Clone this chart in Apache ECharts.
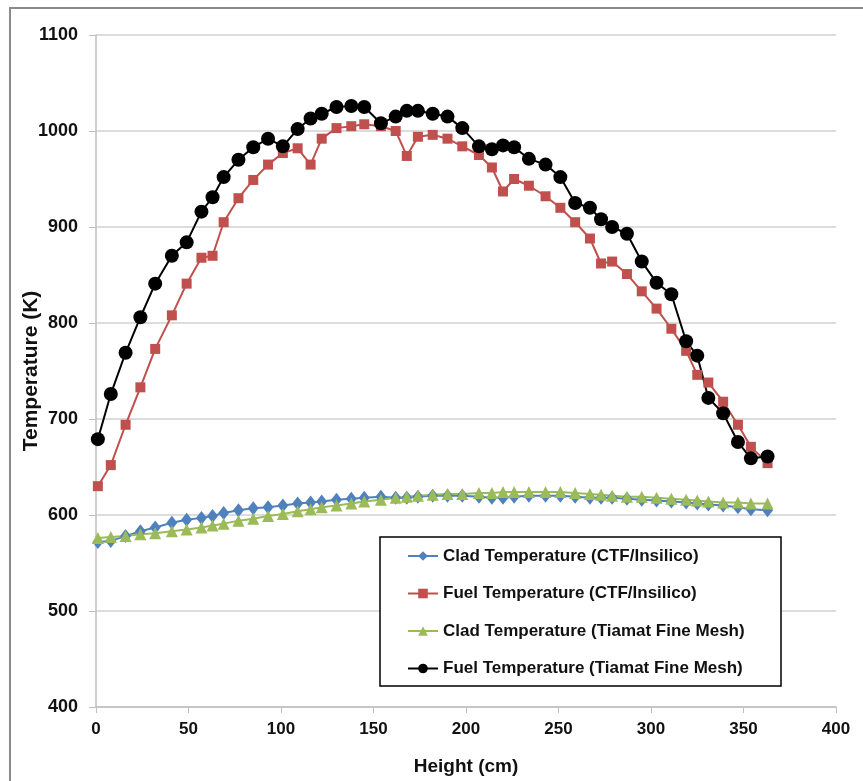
<!DOCTYPE html>
<html>
<head>
<meta charset="utf-8">
<script src="https://cdn.jsdelivr.net/npm/echarts@6/dist/echarts.min.js"></script>
<style>
html, body { margin: 0; padding: 0; background: #fff; }
#main { width: 863px; height: 781px; }
</style>
</head>
<body>
<div id="main"></div>
<script>
// heights (cm), shared by all four series
var heights = [1, 8, 16, 24, 32, 41, 49, 57, 63, 69, 77, 85, 93, 101, 109, 116, 122, 130, 138, 145,
	154, 162, 168, 174, 182, 190, 198, 207, 214, 220, 226, 234, 243, 251, 259, 267, 273, 279, 287, 295,
	303, 311, 319, 325, 331, 339, 347, 354, 363];
var cladCtf = [572, 573, 578, 583, 587, 592, 595, 597, 599, 602, 605, 607, 608, 610, 612, 613, 614, 616, 617, 618,
	619, 618, 618, 619, 620, 620, 620, 619, 618, 618, 619, 620, 620, 620, 619, 618, 618, 618, 617, 616,
	615, 614, 613, 612, 611, 610, 608, 606, 605];
var fuelCtf = [630, 652, 694, 733, 773, 808, 841, 868, 870, 905, 930, 949, 965, 977, 982, 965, 992, 1003, 1005, 1007,
	1005, 1000, 974, 994, 996, 992, 984, 975, 962, 937, 950, 943, 932, 920, 905, 888, 862, 864, 851, 833,
	815, 794, 771, 746, 738, 718, 694, 671, 654];
var cladTiamat = [576, 577, 578, 580, 581, 583, 585, 587, 589, 591, 594, 596, 599, 601, 604, 606, 608, 610, 612, 614,
	616, 618, 619, 620, 621, 622, 622, 623, 623, 624, 624, 624, 624, 624, 623, 622, 621, 620, 619, 619,
	618, 617, 616, 615, 614, 613, 613, 612, 612];
var fuelTiamat = [679, 726, 769, 806, 841, 870, 884, 916, 931, 952, 970, 983, 992, 984, 1002, 1013, 1018, 1025, 1026, 1025,
	1008, 1015, 1021, 1021, 1018, 1015, 1003, 984, 981, 985, 983, 971, 965, 952, 925, 920, 908, 900, 893, 864,
	842, 830, 781, 766, 722, 706, 676, 659, 661];
var seriesNames = ['Clad Temperature (CTF/Insilico)', 'Fuel Temperature (CTF/Insilico)',
	'Clad Temperature (Tiamat Fine Mesh)', 'Fuel Temperature (Tiamat Fine Mesh)'];

function pairs(ys) {
	return heights.map(function(h, i) { return [h, ys[i]]; });
}

function lineSeries(name, ys, color, symbol, size) {
	return {
		name: name,
		type: 'line',
		data: pairs(ys),
		symbol: symbol,
		symbolSize: size,
		itemStyle: { color: color },
		lineStyle: { color: color, width: 2 },
		emphasis: { disabled: true },
		animation: false
	};
}

var myChart = echarts.init(document.getElementById('main'));
var axisFont = 'Liberation Sans, Arial, sans-serif';
var option = {
	backgroundColor: '#fff',
	graphic: [{
		type: 'rect',
		shape: { x: 10, y: 8, width: 900, height: 800 },
		style: { fill: 'none', stroke: '#8a8a8a', lineWidth: 2 },
		silent: true
	}, {
		type: 'rect',
		shape: { x: 380, y: 537, width: 401, height: 149 },
		style: { fill: '#fff', stroke: '#000', lineWidth: 1.5 },
		z: 5,
		silent: true
	}],
	grid: { left: 96, right: 27, top: 35, bottom: 74, containLabel: false, outerBoundsMode: 'none' },
	legend: {
		orient: 'vertical',
		left: 402,
		top: 542,
		z: 10,
		itemWidth: 30,
		itemHeight: 12,
		itemGap: 19.5,
		data: seriesNames,
		textStyle: { fontFamily: axisFont, fontWeight: 'bold', fontSize: 17, color: '#111', lineHeight: 18 }
	},
	xAxis: {
		type: 'value',
		min: 0,
		max: 400,
		interval: 50,
		name: 'Height (cm)',
		nameLocation: 'middle',
		nameGap: 50,
		nameMoveOverlap: false,
		nameTextStyle: { fontFamily: axisFont, fontWeight: 'bold', fontSize: 19, color: '#111' },
		axisLine: { lineStyle: { color: '#bfbfbf', width: 1.5 } },
		axisTick: { show: true, length: 6, lineStyle: { color: '#bfbfbf' } },
		splitLine: { show: false },
		axisLabel: { margin: 14, fontFamily: axisFont, fontWeight: 'bold', fontSize: 17, color: '#111' }
	},
	yAxis: {
		type: 'value',
		min: 400,
		max: 1100,
		interval: 100,
		name: 'Temperature (K)',
		nameLocation: 'middle',
		nameGap: 54,
		nameMoveOverlap: false,
		nameTextStyle: { fontFamily: axisFont, fontWeight: 'bold', fontSize: 21, color: '#111' },
		axisLine: { show: true, lineStyle: { color: '#bfbfbf', width: 1.5 } },
		axisTick: { show: true, length: 7, lineStyle: { color: '#bfbfbf' } },
		splitLine: { lineStyle: { color: '#d0d0d0', width: 1.5 } },
		axisLabel: {
			margin: 18, fontFamily: axisFont, fontWeight: 'bold', fontSize: 18, color: '#111',
			formatter: function(v) { return String(v); }
		}
	},
	series: [
		lineSeries(seriesNames[0], cladCtf, '#4f81bd', 'diamond', [11, 14]),
		lineSeries(seriesNames[1], fuelCtf, '#c0504d', 'rect', 10),
		lineSeries(seriesNames[2], cladTiamat, '#9bbb59', 'triangle', 12),
		lineSeries(seriesNames[3], fuelTiamat, '#000000', 'circle', 14)
	]
};
myChart.setOption(option);
</script>
</body>
</html>
